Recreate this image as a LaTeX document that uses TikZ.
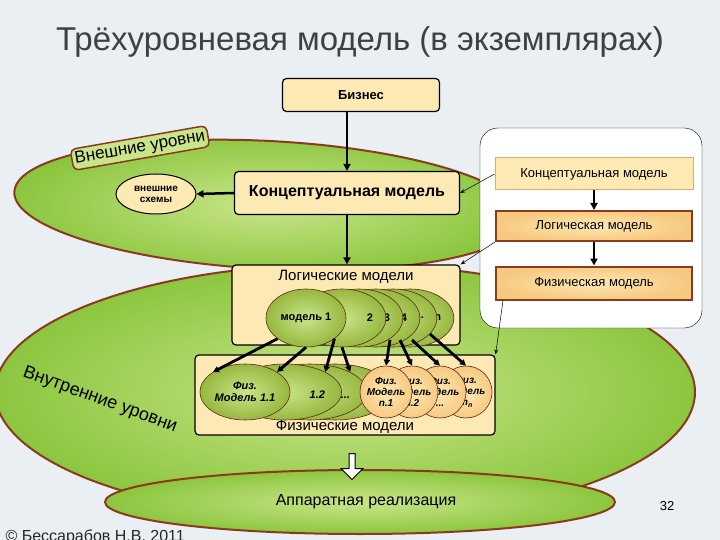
\documentclass[tikz,border=0pt]{standalone}
\usepackage{fontspec}
\setmainfont{Liberation Sans}
\usetikzlibrary{arrows.meta,shapes.arrows,shapes.geometric}
\definecolor{bg}{HTML}{E9EFF3}
\definecolor{brn}{HTML}{8B3A1E}
\definecolor{grn}{HTML}{8CC63F}
\definecolor{lgrn}{HTML}{C9E58A}
\definecolor{box}{HTML}{FCE9B4}
\definecolor{obox}{HTML}{F7C980}
\tikzset{
 lvl/.style={draw=brn,line width=2pt,inner color=lgrn,outer color=grn},
 ybox/.style={draw=black,line width=1.2pt,rounded corners=4pt,fill=box},
 rbox/.style={draw=brn,line width=2pt,inner color=box,outer color=obox},
 cell/.style={draw=brn!70!black,line width=0.6pt,inner color=lgrn,outer color=grn!80!brown},
 pcell/.style={draw=brn!70!black,line width=0.6pt,inner color=box,outer color=obox},
 big/.style={-{Triangle[length=7pt,width=7pt]},line width=2.5pt},
 thin/.style={-{Stealth[length=5pt]},line width=0.5pt},
 mid/.style={-{Triangle[length=6pt,width=6pt]},line width=2.8pt}
}
\begin{document}
\begin{tikzpicture}[x=1pt,y=-1pt]
\fill[bg] (0,0) rectangle (720,540);
\useasboundingbox (0,0) rectangle (720,540);
\node[text=black!75,font=\fontsize{33}{35}\selectfont] (title) at (360,42) {Трёхуровневая модель (в экземплярах)};
% levels
\path[lvl] (345,392) ellipse [x radius=350,y radius=128];
\path[lvl,rotate around={-3:(268,205)}] (268,205) ellipse [x radius=254,y radius=64];
\node[draw=brn,line width=1.5pt,fill=lgrn,rounded corners=5pt,rotate=10,font=\fontsize{17}{19}\selectfont,inner sep=3pt] (ext) at (140,148) {Внешние уровни};
\node[font=\fontsize{18}{20}\selectfont,rotate=-20,align=left] (int) at (100,400) {Внутренние уровни};
\path[lvl] (360,502) ellipse [x radius=255,y radius=32];
% right panel
\node[draw=black,fill=white,rounded corners=18pt,minimum width=222pt,minimum height=200pt] (panel) at (591,228) {};
\node[draw=obox!80!brn,line width=1pt,fill=box,minimum width=198pt,minimum height=32pt,font=\fontsize{13}{15}\selectfont] (pc) at (594,174) {Концептуальная модель};
\node[rbox,minimum width=196pt,minimum height=30pt,font=\fontsize{13}{15}\selectfont] (pl) at (594,226) {Логическая модель};
\node[rbox,minimum width=196pt,minimum height=33pt,font=\fontsize{13}{15}\selectfont] (pf) at (594,283) {Физическая модель};
\draw[big] (pc) -- (pl);
\draw[big] (pl) -- (pf);
% main
\node[ybox,minimum width=157pt,minimum height=33pt,font=\bfseries\fontsize{13}{15}\selectfont] (biz) at (361,95) {Бизнес};
\node[ybox,minimum width=225pt,minimum height=43pt,font=\bfseries\fontsize{16}{18}\selectfont] (cm) at (347,193) {Концептуальная модель};
\node[draw=black,line width=1pt,fill=box,ellipse,minimum width=80pt,minimum height=40pt,font=\bfseries\fontsize{10}{11}\selectfont,align=center,inner sep=0pt] (es) at (156,194) {внешние\\схемы};
\node[ybox,minimum width=228pt,minimum height=80pt] (lm) at (346,305) {};
\node[font=\fontsize{15}{17}\selectfont] (lmt) at (346,277) {Логические модели};
\node[ybox,minimum width=300pt,minimum height=80pt] (fm) at (345,395) {};
\node[font=\fontsize{15}{17}\selectfont] (fmt) at (345,427) {Физические модели};
% logical cells
\foreach \i/\x/\t in {6/410/n,5/393/{...},4/376/4,3/359/3,2/342/2}
  \node[cell,ellipse,minimum width=78pt,minimum height=58pt,font=\bfseries\fontsize{11}{12}\selectfont,text width=62pt,align=right,inner sep=0pt] (l\i) at (\x,318) {\t\hspace*{1pt}};
\node[cell,ellipse,minimum width=80pt,minimum height=58pt,font=\bfseries\fontsize{11}{12}\selectfont,inner sep=0pt] (l1) at (306,318) {модель 1};
% physical cells left
\foreach \i/\x/\t in {4/335/{1.m\textsubscript{1}},3/310/{...},2/285/{1.2}}
  \node[cell,ellipse,minimum width=96pt,minimum height=56pt,font=\bfseries\itshape\fontsize{11}{12}\selectfont,text width=80pt,align=right,inner sep=0pt] (f\i) at (\x,392) {\\\t};
\node[cell,ellipse,minimum width=90pt,minimum height=56pt,font=\bfseries\itshape\fontsize{11}{12}\selectfont,align=center,inner sep=0pt] (f1) at (245,392) {Физ.\\Модель 1.1};
% physical cells right
\foreach \i/\x/\t in {4/466/{m\textsubscript{n}},3/440/{...},2/412/{n.2}}
  \node[pcell,circle,minimum size=52pt,font=\bfseries\itshape\fontsize{10}{11}\selectfont,align=center,inner sep=0pt] (g\i) at (\x,392) {Физ.\\Модель\\\t};
\node[pcell,circle,minimum size=52pt,font=\bfseries\itshape\fontsize{10}{11}\selectfont,align=center,inner sep=0pt] (g1) at (386,392) {Физ.\\Модель\\n.1};
% arrows
\draw[big] (biz.south -| cm.north) -- (cm.north);
\draw[big] (cm.south) -- (lm.north -| cm.south);
\draw[big] (cm.west) -- (es.east);
\draw[thin] (pc.west) -- (cm.east);
\draw[thin] (pl.south west) -- (lm.north east);
\draw[thin] (pf.south west) ++(8,0) -- (fm.north east);
\foreach \a/\b in {l1.south west/f1.north west,l1.south/f1.north east,l1.south east/f2.north east,l2.south/f3.north east}
  \draw[mid] (\a) -- (\b);
\draw[mid] (390,340) -- (g1.north);
\draw[mid] (400,340) -- (g2.north);
\draw[mid] (412,340) -- (g3.north);
\draw[mid] (430,334) -- (g4.north);
\node[single arrow,draw=black,line width=1pt,fill=white,shape border rotate=270,minimum height=26pt,minimum width=22pt,single arrow head extend=4pt,inner sep=1pt] (down) at (352,465) {};
\node[font=\fontsize{16}{18}\selectfont] (hw) at (366,502) {Аппаратная реализация};
\node[font=\fontsize{13}{15}\selectfont] (pg) at (667,506) {32};
\node[anchor=west,font=\fontsize{16}{18}\selectfont,text=black!85] (copy) at (2,537) {© Бессарабов Н.В. 2011};
\end{tikzpicture}
\end{document}
